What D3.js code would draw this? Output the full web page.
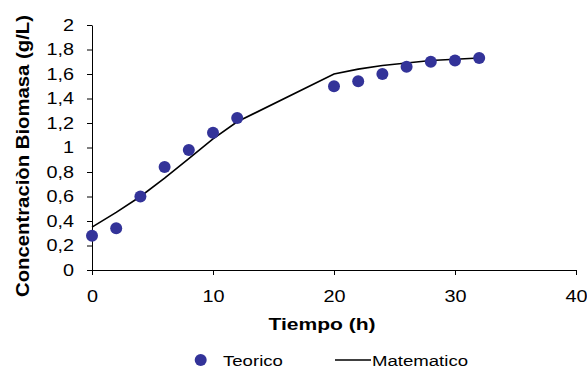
<!DOCTYPE html>
<html>
<head>
<meta charset="utf-8">
<script src="https://cdn.jsdelivr.net/npm/d3@7"></script>
<style>
  html, body { margin: 0; padding: 0; background: #fff; }
  svg { display: block; }
  text { font-family: "Liberation Sans", Arial, sans-serif; fill: #000; }
</style>
</head>
<body>
<svg id="chart" width="587" height="369"></svg>
<script>
// Biomass concentration over time: measured points vs. model curve
const tiempoTeorico = [0, 2, 4, 6, 8, 10, 12, 20, 22, 24, 26, 28, 30, 32];
const biomasaTeorico = [0.28, 0.34, 0.60, 0.84, 0.98, 1.12, 1.24, 1.50, 1.54, 1.60, 1.66, 1.70, 1.71, 1.73];

const tiempoMatematico = [0, 2, 4, 6, 8, 10, 12, 20, 22, 24, 26, 28, 30, 32];
const biomasaMatematico = [0.35, 0.47, 0.60, 0.75, 0.91, 1.07, 1.21, 1.60, 1.64, 1.67, 1.69, 1.71, 1.72, 1.73];

const xTicks = [0, 10, 20, 30, 40];
const xTickLabels = ["0", "10", "20", "30", "40"];
const yTicks = [0, 0.2, 0.4, 0.6, 0.8, 1, 1.2, 1.4, 1.6, 1.8, 2];
const yTickLabels = ["0", "0,2", "0,4", "0,6", "0,8", "1", "1,2", "1,4", "1,6", "1,8", "2"];

const seriesNames = ["Teorico", "Matematico"];
const xTitle = "Tiempo (h)";
const yTitle = "Concentraciòn Biomasa (g/L)";

const svg = d3.select("#chart");
const x = d3.scaleLinear().domain([0, 40]).range([92, 576]);
const y = d3.scaleLinear().domain([0, 2]).range([270, 25]);

const stretch = 1.24;   // wide lettering
const dotColor = "#333399";

// Axes
const xAxis = d3.axisBottom(x)
  .tickValues(xTicks)
  .tickFormat((d, i) => xTickLabels[i])
  .tickSize(5).tickSizeOuter(0).tickPadding(16);
const gx = svg.append("g").attr("transform", `translate(0,${y(0)})`).call(xAxis);

const yAxis = d3.axisLeft(y)
  .tickValues(yTicks)
  .tickFormat((d, i) => yTickLabels[i])
  .tickSize(5).tickSizeOuter(0).tickPadding(13);
const gy = svg.append("g").attr("transform", `translate(${x(0)},0)`).call(yAxis);

[gx, gy].forEach(g => {
  g.select(".domain").attr("stroke", "#000").attr("stroke-width", 1);
  g.selectAll(".tick line").attr("stroke", "#000").attr("stroke-width", 1);
  g.selectAll(".tick text")
    .attr("font-size", 16)
    .attr("font-family", "Liberation Sans, Arial, sans-serif")
    .attr("fill", "#000");
});
gx.selectAll(".tick text").attr("transform", `scale(${stretch},1)`);
gy.selectAll(".tick text").attr("transform", `translate(-18,0) scale(${stretch},1) translate(18,0)`);

// Model curve
const line = d3.line().x(d => x(d[0])).y(d => y(d[1]));
svg.append("path")
  .datum(tiempoMatematico.map((t, i) => [t, biomasaMatematico[i]]))
  .attr("d", line)
  .attr("fill", "none")
  .attr("stroke", "#000")
  .attr("stroke-width", 1.6);

// Measured points
svg.append("g").selectAll("circle")
  .data(tiempoTeorico.map((t, i) => [t, biomasaTeorico[i]]))
  .join("circle")
  .attr("cx", d => x(d[0]))
  .attr("cy", d => y(d[1]))
  .attr("r", 6)
  .attr("fill", dotColor);

// Axis titles
svg.append("text")
  .attr("transform", `translate(322,330) scale(${stretch},1)`)
  .attr("text-anchor", "middle")
  .attr("font-size", 17)
  .attr("font-weight", "bold")
  .text(xTitle);

svg.append("text")
  .attr("transform", `translate(29,156) rotate(-90)`)
  .attr("text-anchor", "middle")
  .attr("font-size", 18)
  .attr("font-weight", "bold")
  .attr("textLength", 282)
  .attr("lengthAdjust", "spacingAndGlyphs")
  .text(yTitle);

// Legend
const legend = svg.append("g");
legend.append("circle").attr("cx", 200.7).attr("cy", 360).attr("r", 6).attr("fill", dotColor);
legend.append("text")
  .attr("transform", `translate(223,365.5) scale(${stretch},1)`)
  .attr("font-size", 15)
  .text(seriesNames[0]);
legend.append("line")
  .attr("x1", 335).attr("x2", 371).attr("y1", 360).attr("y2", 360)
  .attr("stroke", "#000").attr("stroke-width", 1.6);
legend.append("text")
  .attr("transform", `translate(372,365.5) scale(${stretch},1)`)
  .attr("font-size", 15)
  .text(seriesNames[1]);
</script>
</body>
</html>
